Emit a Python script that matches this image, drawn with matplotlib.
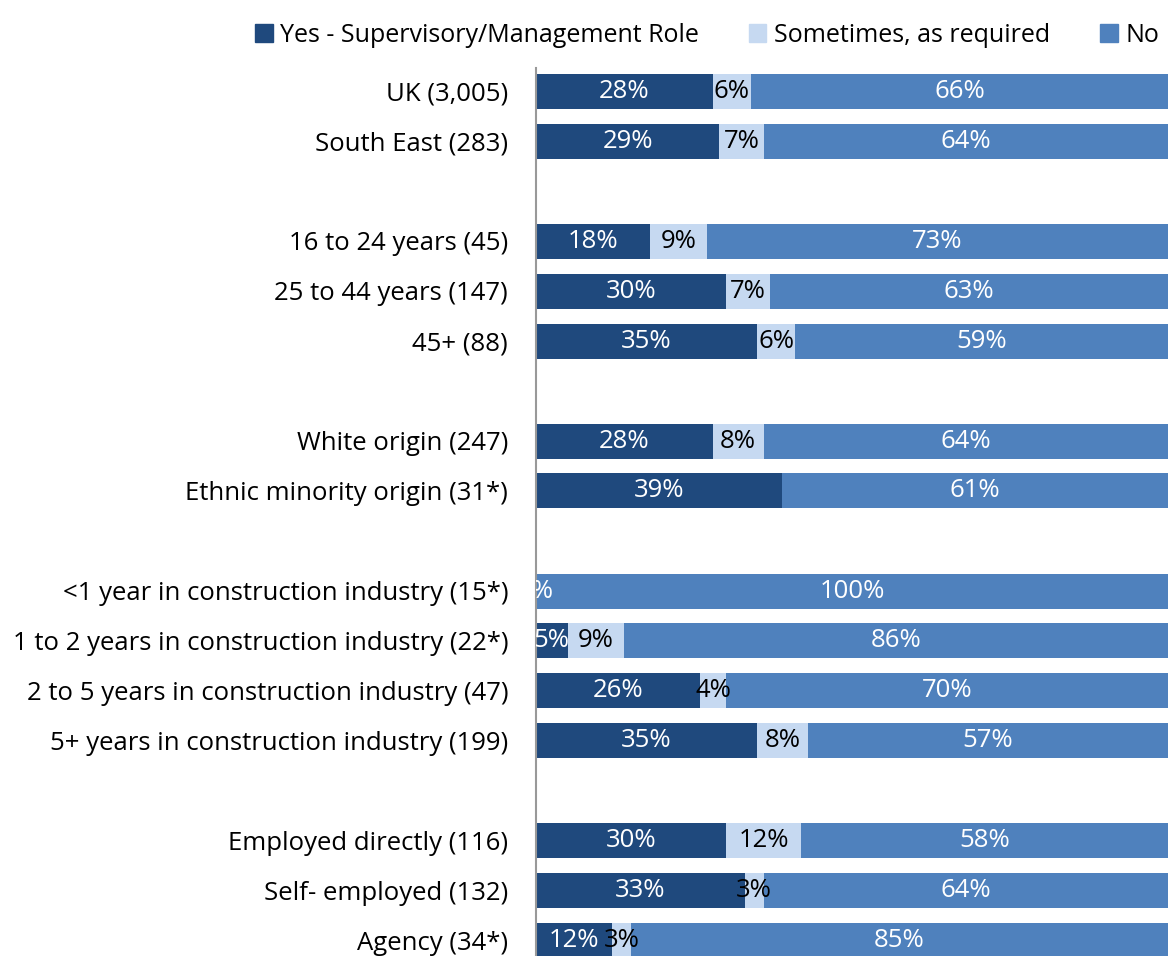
# Stacked horizontal bars: supervisory / management role by group.

import matplotlib.pyplot as plt
from matplotlib.patches import Patch

groups = [
    "UK (3,005)", "South East (283)", None,
    "16 to 24 years (45)", "25 to 44 years (147)", "45+ (88)", None,
    "White origin (247)", "Ethnic minority origin (31*)", None,
    "<1 year in construction industry (15*)",
    "1 to 2 years in construction industry (22*)",
    "2 to 5 years in construction industry (47)",
    "5+ years in construction industry (199)", None,
    "Employed directly (116)", "Self- employed (132)", "Agency (34*)",
]
yes = [28, 29, None, 18, 30, 35, None, 28, 39, None, 0, 5, 26, 35, None, 30, 33, 12]
sometimes = [6, 7, None, 9, 7, 6, None, 8, None, None, 0, 9, 4, 8, None, 12, 3, 3]
no = [66, 64, None, 73, 63, 59, None, 64, 61, None, 100, 86, 70, 57, None, 58, 64, 85]

series = ["Yes - Supervisory/Management Role", "Sometimes, as required", "No"]
colors = ["#1F497D", "#C6D9F1", "#4F81BD"]
text_colors = ["white", "black", "white"]

plt.rcParams['font.family'] = ['Open Sans', 'DejaVu Sans']
fs = 18.5

fig = plt.figure(figsize=(11.72, 9.56), dpi=100)
ax = fig.add_axes([536 / 1172, 0.0, 1 - 536 / 1172 - 4 / 1172, 1 - 68 / 956])

rows = list(range(len(groups)))
for i in rows:
    if groups[i] is None:
        continue
    left = 0
    for k, (vals, c, tc) in enumerate(zip([yes, sometimes, no], colors, text_colors)):
        v = vals[i]
        if v is None:
            continue
        ax.barh(i, v, left=left, height=0.7, color=c, edgecolor='none')
        if v > 0 or k == 0:
            t = ax.text(left + v / 2, i, f"{v}%", ha='center', va='center',
                        color=tc, fontsize=fs)
            t.set_clip_on(True)
        left += v

ax.set_xlim(0, 100)
ax.set_ylim(17.3, -0.46)
ax.set_yticks([i for i in rows if groups[i] is not None])
ax.set_yticklabels([g for g in groups if g is not None], fontsize=fs)
ax.tick_params(axis='y', length=0, pad=20)
ax.set_xticks([])
for s in ['top', 'right', 'bottom']:
    ax.spines[s].set_visible(False)
ax.spines['left'].set_color('#999999')
ax.spines['left'].set_linewidth(1.5)

handles = [Patch(color=c, label=s) for c, s in zip(colors, series)]
fig.legend(handles=handles, loc='upper right', bbox_to_anchor=(1.008, 1.0),
           ncol=3, frameon=False, fontsize=18, handlelength=0.7,
           handleheight=0.7, handletextpad=0.3, columnspacing=2.0)

plt.savefig('out.png', dpi=100)
